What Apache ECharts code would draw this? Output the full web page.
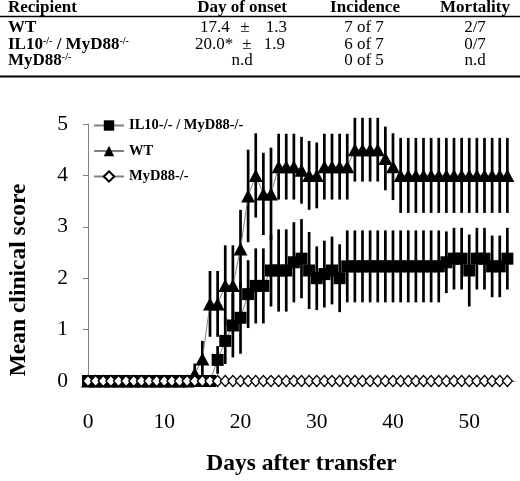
<!DOCTYPE html>
<html lang="en">
<head>
	<meta charset="UTF-8">
	<title>Mean clinical score</title>
	<script src="https://cdn.jsdelivr.net/npm/echarts@6/dist/echarts.min.js"></script>
	<style>
		* {
			margin: 0;
			padding: 0;
		}
		#container {
			width: 520px;
			height: 481px;
			background: #fff;
		}
	</style>
</head>
<body>
<div id="container"></div>
<script type="text/javascript">
	var days = [0, 1, 2, 3, 4, 5, 6, 7, 8, 9, 10, 11, 12, 13, 14, 15, 16, 17, 18, 19,
		20, 21, 22, 23, 24, 25, 26, 27, 28, 29, 30, 31, 32, 33, 34, 35, 36, 37, 38, 39,
		40, 41, 42, 43, 44, 45, 46, 47, 48, 49, 50, 51, 52, 53, 54, 55];

	// WT (triangles)
	var wtMean = [0, 0, 0, 0, 0, 0, 0, 0, 0, 0, 0, 0, 0, 0, 0.14, 0.43, 1.5, 1.5, 1.86, 1.86,
		2.57, 3.6, 4.0, 3.64, 3.64, 4.17, 4.17, 4.17, 4.1, 4.0, 4.0, 4.17, 4.17, 4.17, 4.17, 4.5, 4.5, 4.5, 4.5, 4.33,
		4.17, 4.0, 4.0, 4.0, 4.0, 4.0, 4.0, 4.0, 4.0, 4.0, 4.0, 4.0, 4.0, 4.0, 4.0, 4.0];
	var wtSd = [0, 0, 0, 0, 0, 0, 0, 0, 0, 0, 0, 0, 0, 0, 0.2, 0.35, 0.64, 0.64, 0.78, 0.78,
		0.76, 0.9, 0.82, 0.8, 0.9, 0.64, 0.64, 0.64, 0.65, 0.67, 0.64, 0.64, 0.64, 0.64, 0.64, 0.62, 0.62, 0.62, 0.62, 0.62,
		0.65, 0.73, 0.73, 0.73, 0.73, 0.73, 0.73, 0.73, 0.73, 0.73, 0.73, 0.73, 0.73, 0.73, 0.73, 0.73];

	// IL10-/- / MyD88-/- (squares)
	var dkoMean = [0, 0, 0, 0, 0, 0, 0, 0, 0, 0, 0, 0, 0, 0, 0, 0, 0, 0.41, 0.78, 1.08,
		1.23, 1.69, 1.85, 1.85, 2.15, 2.15, 2.15, 2.31, 2.38, 2.15, 2.0, 2.08, 2.15, 2.0, 2.23, 2.23, 2.23, 2.23, 2.23, 2.23,
		2.23, 2.23, 2.23, 2.23, 2.23, 2.23, 2.23, 2.31, 2.38, 2.38, 2.15, 2.38, 2.38, 2.23, 2.23, 2.38];
	var dkoSd = [0, 0, 0, 0, 0, 0, 0, 0, 0, 0, 0, 0, 0, 0, 0, 0, 0, 0.27, 0.45, 0.62,
		0.7, 0.66, 0.73, 0.73, 0.7, 0.8, 0.8, 0.78, 0.77, 0.75, 0.62, 0.65, 0.66, 0.66, 0.7, 0.7, 0.7, 0.7, 0.7, 0.7,
		0.7, 0.7, 0.7, 0.7, 0.7, 0.7, 0.7, 0.6, 0.6, 0.6, 0.7, 0.6, 0.6, 0.6, 0.6, 0.6];

	// MyD88-/- (diamonds)
	var myd88Mean = [0, 0, 0, 0, 0, 0, 0, 0, 0, 0, 0, 0, 0, 0, 0, 0, 0, 0, 0, 0,
		0, 0, 0, 0, 0, 0, 0, 0, 0, 0, 0, 0, 0, 0, 0, 0, 0, 0, 0, 0,
		0, 0, 0, 0, 0, 0, 0, 0, 0, 0, 0, 0, 0, 0, 0, 0];

	var xTicks = [0, 10, 20, 30, 40, 50];
	var yTicks = [0, 1, 2, 3, 4, 5];

	var serif = '"Liberation Serif", "Times New Roman", serif';

	function pairs(ys) {
		return days.map(function (d, i) { return [d, ys[i]]; });
	}
	function triples(ys, sd) {
		return days.map(function (d, i) { return [d, ys[i], sd[i]]; });
	}

	// vertical error bar, no caps
	function errBar(params, api) {
		var x = api.value(0), m = api.value(1), s = api.value(2);
		if (!s) return null;
		var a = api.coord([x, m + s]);
		var b = api.coord([x, Math.max(0, m - s)]);
		return {
			type: 'line',
			shape: {x1: a[0], y1: a[1], x2: b[0], y2: b[1]},
			style: {stroke: '#000', lineWidth: 2.7}
		};
	}

	var myChart = echarts.init(document.getElementById('container'), null, {renderer: 'canvas'});

	var tableY = [28, 44.5, 61];
	var txt = function (text, x, y, align, bold) {
		return {
			type: 'text', x: x, y: y,
			style: {
				text: text, fill: '#000', align: align, verticalAlign: 'middle',
				font: (bold ? 'bold ' : '') + '17px ' + serif
			}
		};
	};
	var sup = {
		fontSize: 10, fontWeight: 'bold', fontFamily: serif, verticalAlign: 'top', padding: [0, 0, 7, 0]
	};
	var richTxt = function (text, x, y) {
		return {
			type: 'text', x: x, y: y,
			style: {
				text: text, fill: '#000', align: 'left', verticalAlign: 'middle',
				fontSize: 17, fontWeight: 'bold', fontFamily: serif,
				rich: {s: sup}
			}
		};
	};

	var option = {
		backgroundColor: '#fff',
		animation: false,
		grid: {left: 88, right: 5, top: 124, bottom: 97},
		legend: {
			orient: 'vertical',
			left: 88,
			top: 113,
			itemWidth: 30,
			itemHeight: 13,
			itemGap: 10.5,
			textStyle: {fontFamily: serif, fontWeight: 'bold', fontSize: 14.5, color: '#000'},
			data: ['IL10-/- / MyD88-/-', 'WT', 'MyD88-/-']
		},
		xAxis: {
			type: 'value',
			min: 0,
			max: 56,
			interval: 10,
			splitLine: {show: false},
			axisLine: {lineStyle: {color: '#808080'}},
			axisTick: {show: false},
			axisLabel: {
				showMaxLabel: false, margin: 30, fontFamily: serif, fontSize: 21.5, color: '#000',
				formatter: function (v) { return xTicks.indexOf(v) >= 0 ? v : ''; }
			},
			name: 'Days after transfer',
			nameLocation: 'middle',
			nameGap: 71,
			nameTextStyle: {fontFamily: serif, fontWeight: 'bold', fontSize: 23.5, color: '#000'}
		},
		yAxis: {
			type: 'value',
			min: 0,
			max: 5,
			interval: 1,
			splitLine: {show: false},
			axisLine: {show: true, lineStyle: {color: '#808080'}},
			axisTick: {show: true, length: 5, lineStyle: {color: '#808080'}},
			axisLabel: {
				margin: 20, fontFamily: serif, fontSize: 21.5, color: '#000',
				formatter: function (v) { return yTicks.indexOf(v) >= 0 ? v : ''; }
			}
		},
		graphic: [
			txt('Recipient', 8, 8, 'left', true),
			txt('Day of onset', 242, 8, 'center', true),
			txt('Incidence', 365, 8, 'center', true),
			txt('Mortality', 475, 8, 'center', true),
			{type: 'line', shape: {x1: 0, y1: 16.5, x2: 520, y2: 16.5}, style: {stroke: '#000', lineWidth: 1.5}},

			txt('WT', 8, tableY[0], 'left', true),
			txt('17.4', 200, tableY[0], 'left', false),
			txt('\u00b1', 245, tableY[0], 'center', false),
			txt('1.3', 287, tableY[0], 'right', false),
			txt('7 of 7', 364, tableY[0], 'center', false),
			txt('2/7', 475, tableY[0], 'center', false),

			richTxt('IL10{s|-/-} / MyD88{s|-/-}', 8, tableY[1]),
			txt('20.0*', 195, tableY[1], 'left', false),
			txt('\u00b1', 247, tableY[1], 'center', false),
			txt('1.9', 285, tableY[1], 'right', false),
			txt('6 of 7', 364, tableY[1], 'center', false),
			txt('0/7', 475, tableY[1], 'center', false),

			richTxt('MyD88{s|-/-}', 8, tableY[2]),
			txt('n.d', 242, tableY[2], 'center', false),
			txt('0 of 5', 364, tableY[2], 'center', false),
			txt('n.d', 475, tableY[2], 'center', false),
			{type: 'line', shape: {x1: 0, y1: 76.5, x2: 520, y2: 76.5}, style: {stroke: '#000', lineWidth: 2}},

			{
				type: 'text', x: 19, y: 280, rotation: Math.PI / 2,
				style: {
					text: 'Mean clinical score', fill: '#000', align: 'center', verticalAlign: 'middle',
					font: 'bold 23.5px ' + serif
				}
			}
		],
		series: [
			{
				name: 'dkoErr', type: 'custom', renderItem: errBar, data: triples(dkoMean, dkoSd), z: 2, silent: true
			},
			{
				name: 'wtErr', type: 'custom', renderItem: errBar, data: triples(wtMean, wtSd), z: 3, silent: true
			},
			{
				name: 'IL10-/- / MyD88-/-',
				type: 'line',
				data: pairs(dkoMean),
				symbol: 'rect',
				symbolSize: 12,
				itemStyle: {color: '#000'},
				lineStyle: {color: '#808080', width: 1},
				z: 4
			},
			{
				name: 'WT',
				type: 'line',
				data: pairs(wtMean),
				symbol: 'triangle',
				symbolSize: [14, 13],
				itemStyle: {color: '#000'},
				lineStyle: {color: '#808080', width: 1},
				z: 5
			},
			{
				name: 'MyD88-/-',
				type: 'line',
				data: pairs(myd88Mean),
				symbol: 'diamond',
				symbolSize: [10, 11],
				itemStyle: {color: '#fff', borderColor: '#000', borderWidth: 1.3},
				lineStyle: {color: '#808080', width: 1},
				z: 6
			}
		]
	};

	myChart.setOption(option);
</script>
</body>
</html>
